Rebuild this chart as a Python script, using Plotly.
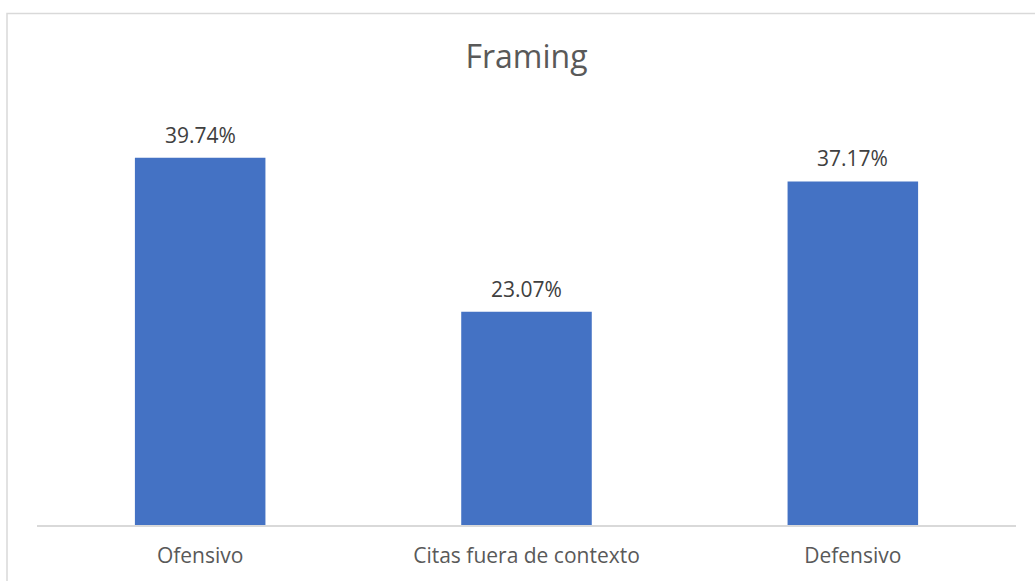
import plotly.graph_objects as go

categories = ["Ofensivo", "Citas fuera de contexto", "Defensivo"]
values = [39.74, 23.07, 37.17]
labels = ["39.74%", "23.07%", "37.17%"]

W, H = 1035, 581
L, R, T, B = 37, 19, 109, 54
pw, ph = W - L - R, H - T - B
FONT = "Open Sans, sans-serif"

fig = go.Figure()
fig.add_trace(go.Bar(x=categories, y=values, marker=dict(color="#4472C4", line=dict(width=0)),
                     hoverinfo="skip"))

for c, v, t in zip(categories, values, labels):
    fig.add_annotation(x=c, y=v, text=t, showarrow=False, yanchor="bottom", yshift=7,
                       font=dict(family=FONT, size=21, color="#404040"))

# chart border
bx0 = (7 - L) / pw
bx1 = (1040 - L) / pw
by1 = (H - B - 13) / ph
by0 = (H - B - 600) / ph
fig.add_shape(type="rect", xref="paper", yref="paper", x0=bx0, x1=bx1, y0=by0, y1=by1,
              line=dict(color="#D9D9D9", width=1.5), layer="below")

fig.update_layout(
    width=W, height=H,
    margin=dict(l=L, r=R, t=T, b=B),
    paper_bgcolor="white", plot_bgcolor="white",
    bargap=0.6,
    showlegend=False,
    title=dict(text="Framing", x=0.5, xref="paper", xanchor="center", y=1 - 57 / H, yanchor="middle",
               font=dict(family=FONT, size=32, color="#595959")),
    xaxis=dict(showline=True, linecolor="#D9D9D9", linewidth=1.5, ticks="", showgrid=False,
               tickfont=dict(family=FONT, size=21, color="#595959"),
               ticklabelstandoff=11),
    yaxis=dict(range=[0, 45], visible=False, showgrid=False, zeroline=False),
)

fig.write_html("out.html")
